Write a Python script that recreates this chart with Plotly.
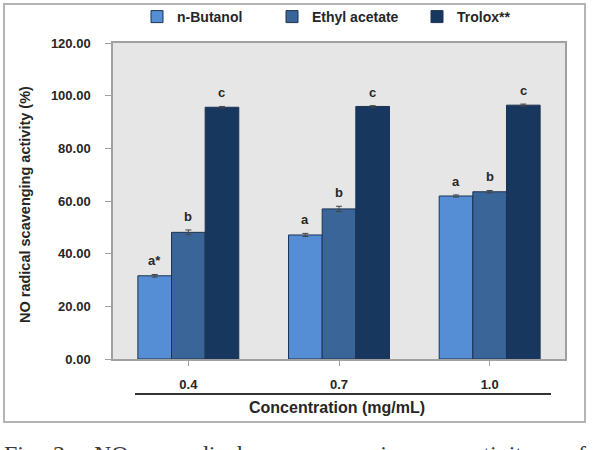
import plotly.graph_objects as go

# ---- data ----
concentrations = ["0.4", "0.7", "1.0"]
series_names = ["n-Butanol", "Ethyl acetate", "Trolox**"]
n_butanol = [31.6, 47.1, 61.9]
ethyl_acetate = [48.1, 57.0, 63.5]
trolox = [95.6, 95.9, 96.4]
err_n_butanol = [0.5, 0.6, 0.4]
err_ethyl_acetate = [0.9, 1.0, 0.5]
err_trolox = [0.3, 0.3, 0.4]
letters_n_butanol = ["a*", "a", "a"]
letters_ethyl_acetate = ["b", "b", "b"]
letters_trolox = ["c", "c", "c"]
y_ticks = [0, 20, 40, 60, 80, 100, 120]
caption_words = ["Fig.", "2.", "NO", "radical", "scavenging", "activity", "of"]
caption_centers_px = [23, 62, 111, 211, 357, 498, 576]
legend_left_px = [137, 272, 417]

# ---- layout geometry (pixels) ----
W, H = 593, 450
L, R, T, B = 113, 565, 43, 359
PW, PH = R - L, B - T


def px_x(x):
    return (x - L) / PW


def px_y(y):
    return (B - y) / PH


colors = ["#558ED5", "#3A6599", "#18375F"]
FONT = "Liberation Sans, Arial, sans-serif"
TXT = "#262626"
legend_keys = ["legend", "legend2", "legend3"]

fig = go.Figure()
values = [n_butanol, ethyl_acetate, trolox]
errs = [err_n_butanol, err_ethyl_acetate, err_trolox]
letters = [letters_n_butanol, letters_ethyl_acetate, letters_trolox]
for name, vals, err, col, lk in zip(series_names, values, errs, colors, legend_keys):
    fig.add_trace(go.Bar(
        name=name, x=concentrations, y=vals, legend=lk,
        marker=dict(color=col, line=dict(color="#1E3350", width=1)),
        error_y=dict(type="data", array=err, color="#444444", thickness=1, width=3),
    ))

bar_px = PW / 3 * 0.67 / 3
for i, (vals, err, labs) in enumerate(zip(values, errs, letters)):
    for j, (v, e, lab) in enumerate(zip(vals, err, labs)):
        fig.add_annotation(
            x=j, y=v + e, xref="x", yref="y",
            text=lab, showarrow=False,
            xshift=(i - 1) * bar_px, xanchor="center", yanchor="bottom", yshift=4,
            font=dict(family=FONT, size=13, color=TXT, weight="bold"),
        )

# y-axis title
fig.add_annotation(
    x=px_x(25), y=px_y(205), xref="paper", yref="paper",
    text="NO radical scavenging activity (%)", textangle=-90,
    xanchor="center", yanchor="middle",
    showarrow=False, font=dict(family=FONT, size=14.5, color=TXT, weight="bold"),
)
# x-axis title and rule
fig.add_annotation(
    x=px_x(337), y=px_y(407), xref="paper", yref="paper",
    text="Concentration (mg/mL)", showarrow=False,
    xanchor="center", yanchor="middle",
    font=dict(family=FONT, size=16, color=TXT, weight="bold"),
)
fig.add_shape(type="line", xref="paper", yref="paper",
              x0=px_x(135), x1=px_x(551), y0=px_y(394), y1=px_y(394),
              line=dict(color="#333333", width=2))
# outer frame
fig.add_shape(type="rect", xref="paper", yref="paper",
              x0=px_x(4), x1=px_x(585), y0=px_y(422), y1=px_y(4),
              line=dict(color="#B4B4B4", width=2))
# caption (partially cut by the page edge)
for word, cx in zip(caption_words, caption_centers_px):
    fig.add_annotation(
        x=px_x(cx), y=px_y(454), xref="paper", yref="paper",
        text=word, showarrow=False, xanchor="center", yanchor="middle",
        font=dict(family="Liberation Serif, Times New Roman, serif", size=24, color="#3a3a3a"),
    )

legend_common = dict(orientation="h", xanchor="left", yanchor="middle",
                     font=dict(family=FONT, size=14, color=TXT, weight="bold"),
                     itemwidth=30, bgcolor="rgba(0,0,0,0)")

fig.update_layout(
    width=W, height=H,
    margin=dict(l=L, r=W - R, t=T, b=H - B, pad=0, autoexpand=False),
    paper_bgcolor="white", plot_bgcolor="#E6E6E6",
    barmode="group", bargap=0.33, bargroupgap=0,
    font=dict(family=FONT, color=TXT),
    showlegend=True,
    legend=dict(x=px_x(legend_left_px[0]), y=px_y(17), **legend_common),
    legend2=dict(x=px_x(legend_left_px[1]), y=px_y(17), **legend_common),
    legend3=dict(x=px_x(legend_left_px[2]), y=px_y(17), **legend_common),
    xaxis=dict(showline=True, linecolor="#A0A0A0", linewidth=1.5, mirror=True,
               ticks="outside", ticklen=5, tickcolor="#A0A0A0",
               tickfont=dict(family=FONT, size=13, color=TXT, weight="bold"),
               showgrid=False, ticklabelstandoff=8),
    yaxis=dict(range=[0, 120], tickvals=y_ticks, tickformat=".2f",
               showline=True, linecolor="#A0A0A0", linewidth=1.5, mirror=True,
               ticks="outside", ticklen=6, tickcolor="#A0A0A0",
               tickfont=dict(family=FONT, size=13, color=TXT, weight="bold"),
               showgrid=False, zeroline=False, ticklabelstandoff=12),
)

fig.write_html("out.html")
